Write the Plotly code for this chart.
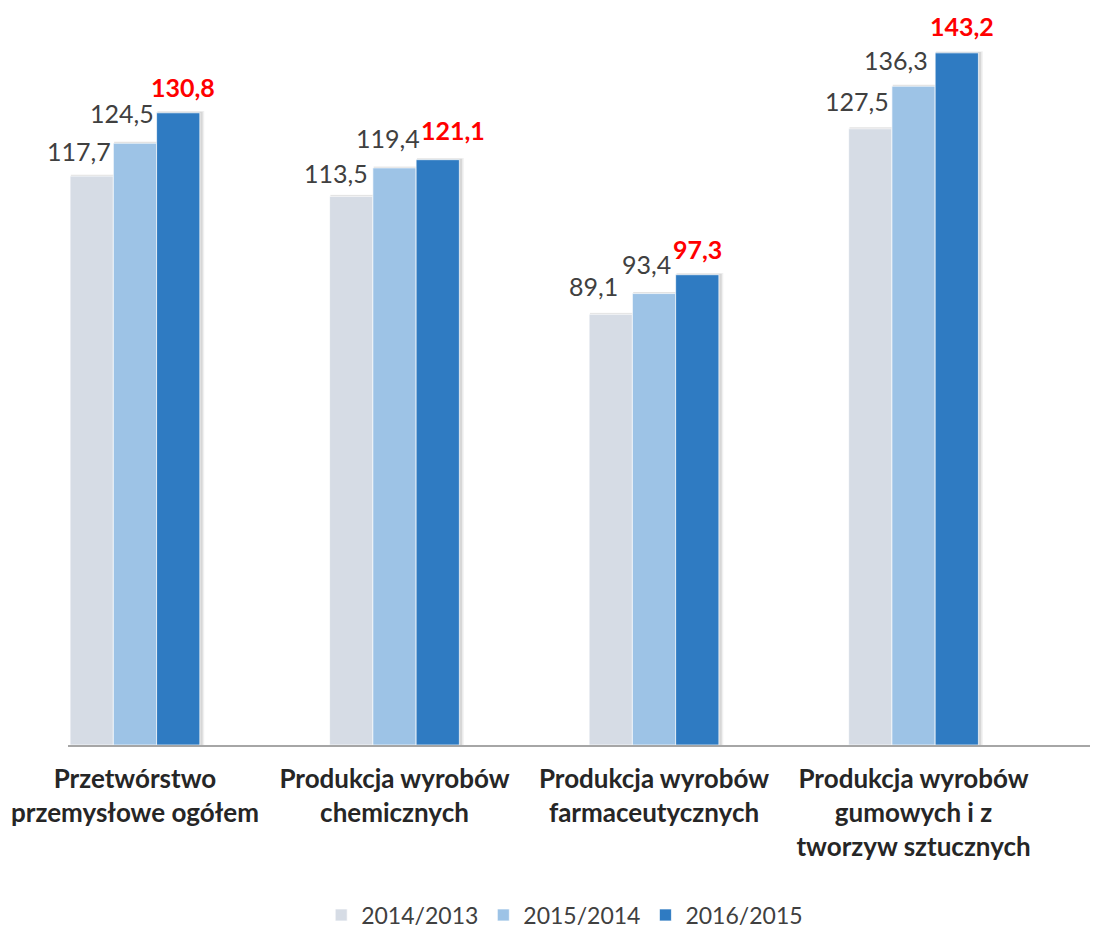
import plotly.graph_objects as go

# Production index, previous year = 100
categories = [
    "Przetwórstwo<br>przemysłowe ogółem",
    "Produkcja wyrobów<br>chemicznych",
    "Produkcja wyrobów<br>farmaceutycznych",
    "Produkcja wyrobów<br>gumowych i z<br>tworzyw sztucznych",
]
series_names = ["2014/2013", "2015/2014", "2016/2015"]
v_2014_2013 = [117.7, 113.5, 89.1, 127.5]
v_2015_2014 = [124.5, 119.4, 93.4, 136.3]
v_2016_2015 = [130.8, 121.1, 97.3, 143.2]

series_values = [v_2014_2013, v_2015_2014, v_2016_2015]
colors = ["#D6DCE5", "#9DC3E6", "#2F7BC2"]

# label nudges in px (horizontal, height above bar top), per series / category
label_dx = [[-13, -15, -17, -13], [-13, -6, -8, -18], [5, 15, 0, 5]]
label_dy = [[25, 23, 28, 28], [30, 30, 30, 26], [26, 30, 26, 27]]

FONT = "Lato"
n_series = len(series_names)
group_width = 0.5
bar_w = group_width / n_series
x_idx = list(range(len(categories)))

fig = go.Figure()

# soft drop shadow to the right of each bar
for i, vals in enumerate(series_values):
    off = -group_width / 2 + i * bar_w
    for extra, alpha in [(0.014, 0.06), (0.008, 0.10)]:
        fig.add_trace(go.Bar(
            x=x_idx, y=[v + extra * 25 for v in vals],
            offset=off + 0.003, width=bar_w + extra,
            marker=dict(color=f"rgba(0,0,0,{alpha})", line=dict(width=0)),
            showlegend=False, hoverinfo="skip",
        ))

for i, (name, vals) in enumerate(zip(series_names, series_values)):
    off = -group_width / 2 + i * bar_w
    fig.add_trace(go.Bar(
        x=x_idx, y=vals, name=name,
        offset=off, width=bar_w,
        marker=dict(color=colors[i], line=dict(color="rgba(255,255,255,0.7)", width=1)),
    ))
    for j, v in enumerate(vals):
        last = i == n_series - 1
        fig.add_annotation(
            x=j + off + bar_w / 2, y=v, xref="x", yref="y",
            text=f"{v:.1f}".replace(".", ","),
            showarrow=False, xanchor="center", yanchor="middle",
            xshift=label_dx[i][j], yshift=label_dy[i][j],
            font=dict(family=FONT, size=25,
                      color="#FF0000" if last else "#404040",
                      weight="bold" if last else "normal"),
        )

fig.update_layout(
    width=1094, height=930,
    margin=dict(l=68, r=4, t=20, b=185, autoexpand=False),
    paper_bgcolor="white", plot_bgcolor="white",
    barmode="overlay",
    showlegend=True,
    legend=dict(
        orientation="h", x=0.486, xanchor="center", y=-0.2345, yanchor="middle",
        font=dict(family=FONT, size=23, color="#404040"),
        traceorder="normal", itemwidth=30,
    ),
    xaxis=dict(
        tickmode="array", tickvals=x_idx, ticktext=categories,
        range=[-0.258, 3.68], automargin=False,
        showline=True, linecolor="#A6A6A6", linewidth=1.5,
        showgrid=False, zeroline=False, ticks="",
        ticklabelstandoff=10,
        tickfont=dict(family=FONT, size=26, color="#262626", weight="bold"),
    ),
    yaxis=dict(
        range=[0, 150.0], visible=False, showgrid=False, zeroline=False,
        automargin=False,
    ),
)

fig.write_html("out.html")
